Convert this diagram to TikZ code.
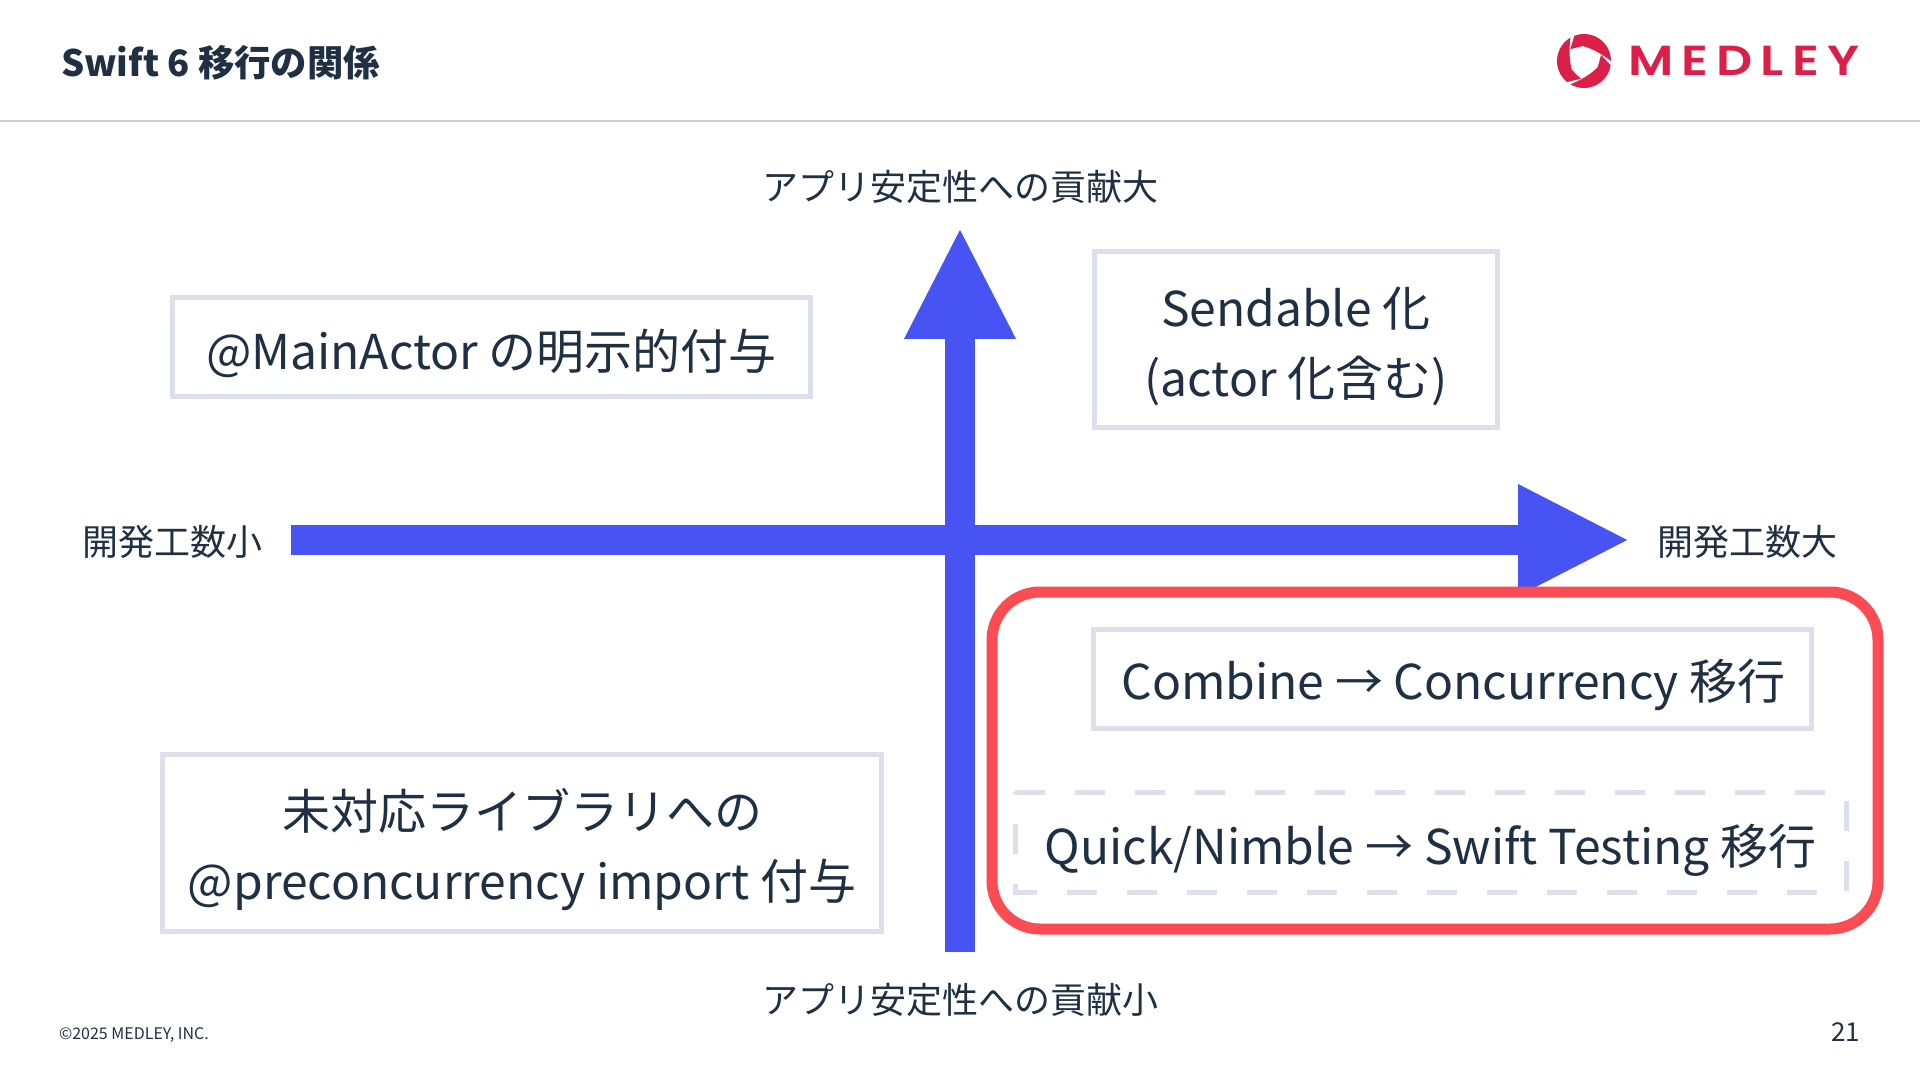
\documentclass[tikz,border=0pt]{standalone}
\usepackage{fontspec}
\usetikzlibrary{arrows.meta}
\setmainfont{Noto Sans CJK JP}
\newfontfamily\logofont{Poppins SemiBold}
\definecolor{ink}{HTML}{1F3044}
\definecolor{boxline}{HTML}{DDE0EA}
\definecolor{axis}{HTML}{4753F2}
\definecolor{alert}{HTML}{FB4B53}
\definecolor{brand}{HTML}{DC1F48}
\definecolor{rulegray}{HTML}{CFCFCF}
\tikzset{
  x=0.5pt,y=-0.5pt,
  every node/.style={text=ink,inner sep=0pt,outer sep=0pt},
  item/.style={draw=boxline,line width=2.5pt,fill=white},
  itemtext/.style={align=center,font=\fontsize{24}{35}\selectfont},
  itemdash/.style={draw=boxline,line width=2.5pt,dash pattern=on 15pt off 15pt},
  axislabel/.style={font=\fontsize{18}{22}\selectfont},
  axisline/.style={draw=axis,line width=15pt,-{Triangle[length=56pt,width=51.5pt]}},
}
\begin{document}
\begin{tikzpicture}
\useasboundingbox (0,0) rectangle (1920,1080);
\fill[white] (0,0) rectangle (1920,1080);
\coordinate (ruleL) at (0,121);
\coordinate (ruleR) at (1920,121);
\draw[rulegray,line width=1pt] (ruleL) -- (ruleR);
\node[anchor=west,font=\fontsize{18.2}{24}\selectfont\bfseries] (title) at (61,63) {Swift 6 移行の関係};
% logo
\begin{scope}[shift={(1584,61)},y=0.5pt]
\foreach \a in {0,120,240}{
  \fill[brand,rotate=\a] (111:27) arc[start angle=111,end angle=0,radius=27]
    .. controls (20:19.5) and (55:15) .. (95:15)
    .. controls (110:15) and (125:16) .. (140:18) -- cycle;
}
\end{scope}
\node[anchor=west,font=\fontsize{21}{24}\logofont,text=brand,xscale=1.2,transform shape] (logo) at (1628.5,61) {\addfontfeature{LetterSpace=16}MEDLEY};
% axes
\coordinate (hs) at (291,540);
\coordinate (he) at (1630,540);
\coordinate (vs) at (960,952);
\coordinate (ve) at (960,227);
\draw[axisline] (hs) -- (he);
\draw[axisline] (vs) -- (ve);
\node[axislabel] (top) at (960,187) {アプリ安定性への貢献大};
\node[axislabel] (bottom) at (960,1000) {アプリ安定性への貢献小};
\node[axislabel] (left) at (172,542) {開発工数小};
\node[axislabel] (right) at (1747,542) {開発工数大};
% boxes
\node[item,minimum width=318.7pt,minimum height=49.2pt] (actor) at (491.5,347) {};
\node[itemtext] (actortext) at ([yshift=-3.2pt]actor.center) {@MainActor の明示的付与};
\node[item,minimum width=201.7pt,minimum height=88.2pt] (sendable) at (1296,339.5) {};
\node[itemtext] (sendabletext) at ([yshift=-3.6pt]sendable.center) {Sendable 化\\(actor 化含む)};
\node[item,minimum width=359.7pt,minimum height=88.2pt] (lib) at (522,843) {};
\node[itemtext] (libtext) at ([yshift=-3.2pt]lib.center) {未対応ライブラリへの\\@preconcurrency import 付与};
\draw[alert,line width=5.5pt,fill=white,rounded corners=24pt] (992,592) rectangle (1878,929);
\node[item,minimum width=359.2pt,minimum height=49.2pt] (combine) at (1452.5,679) {};
\node[itemtext] (combinetext) at ([yshift=-3.2pt,xshift=0.5pt]combine.center) {Combine → Concurrency 移行};
\node[minimum width=415.5pt,minimum height=50pt] (quick) at (1430.5,842) {};
\draw[itemdash] (quick.north west) -- (quick.north east) -- (quick.south east) -- (quick.south west) -- cycle;
\node[itemtext] (quicktext) at ([yshift=-4.2pt]quick.center) {Quick/Nimble → Swift Testing 移行};
% footer
\node[anchor=west,font=\fontsize{8}{10}\selectfont] (copy) at (59,1035) {©2025 MEDLEY, INC.};
\node[anchor=east,font=\fontsize{13}{16}\selectfont] (page) at (1860,1032) {21};
\end{tikzpicture}
\end{document}
